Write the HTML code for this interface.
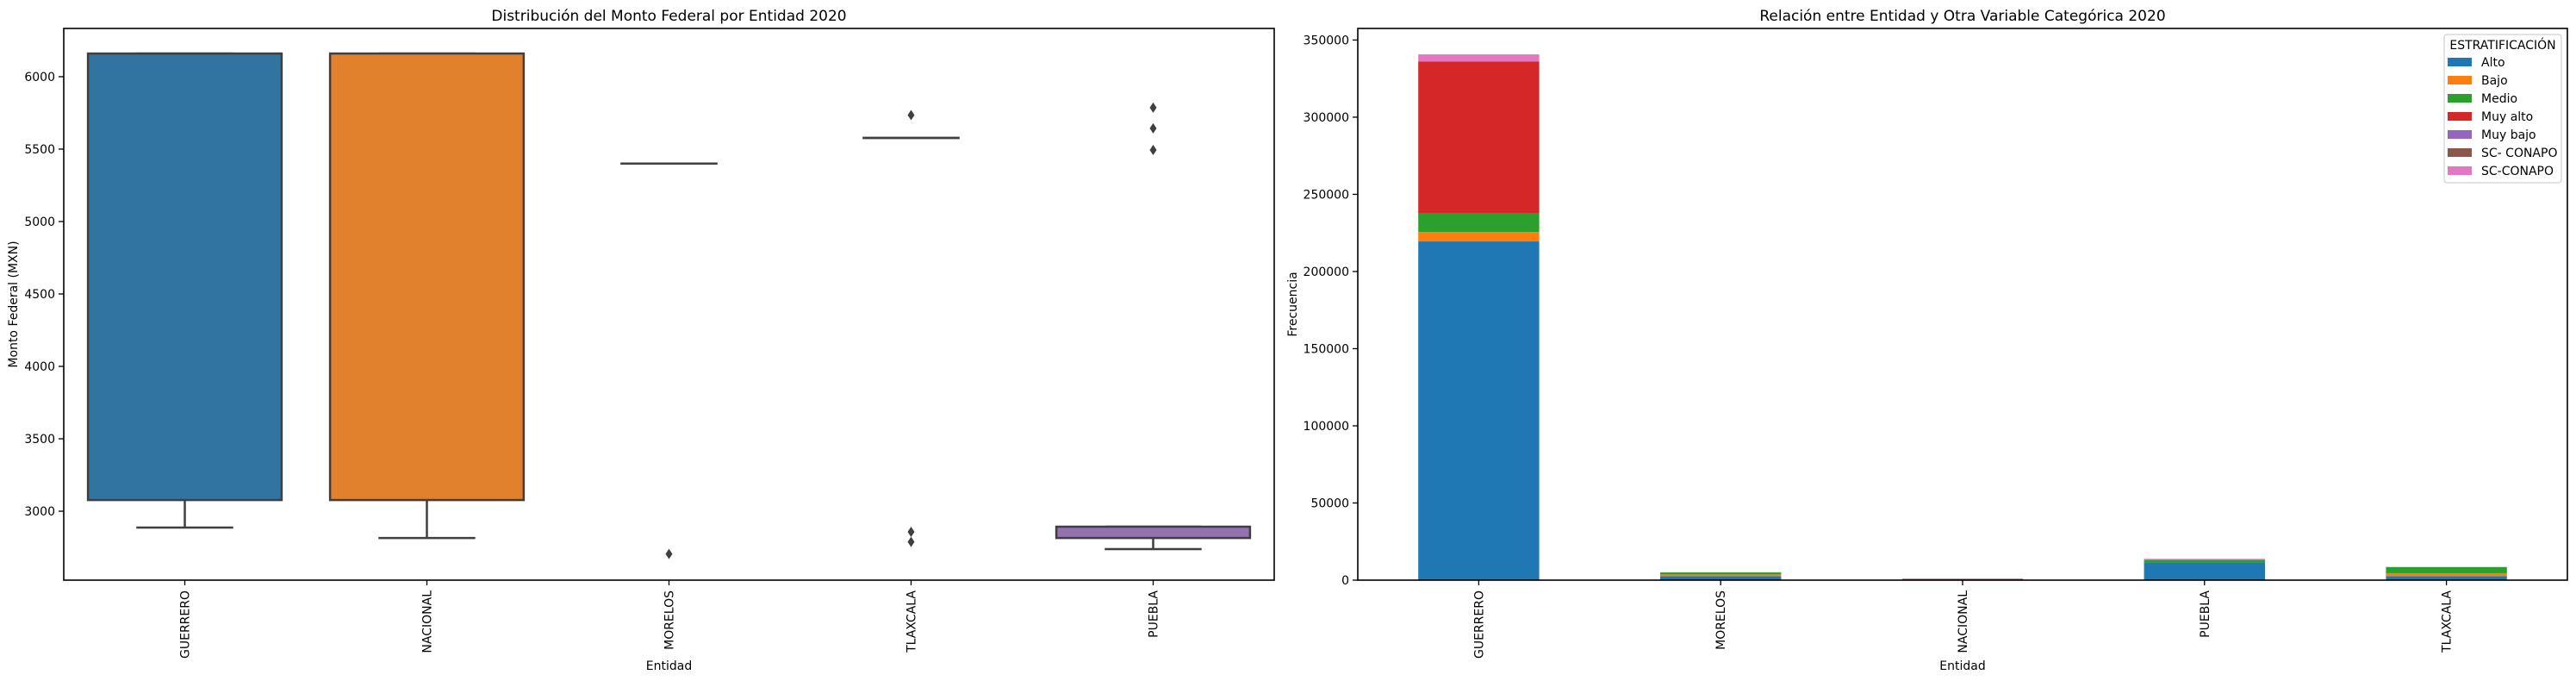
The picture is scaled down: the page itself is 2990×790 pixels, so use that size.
<!DOCTYPE html>
<html><head><meta charset="utf-8"><style>
html,body{margin:0;padding:0;background:#fff;}
svg{display:block;font-family:"DejaVu Sans","Liberation Sans",sans-serif;}
</style></head><body>
<svg id="chart" width="2990" height="790" xmlns="http://www.w3.org/2000/svg"></svg>
<script>
// ---- Left chart data (box plot) ----
const boxCats = ["GUERRERO","NACIONAL","MORELOS","TLAXCALA","PUEBLA"];
const boxColors = ["#3274a1","#e1812c","#3a923a","#c03d3e","#9372b2"];
const boxQ1 = [3077,3077,5400,5577,2815];
const boxQ3 = [6160,6160,5400,5577,2893];
const boxWhiskLow = [2887,2815,5400,5577,2738];
const boxWhiskHigh = [6160,6160,5400,5577,2893];
const boxOutliers = [[],[],[2705],[5735,2857,2788],[5786,5643,5494]];
const leftTicks = [3000,3500,4000,4500,5000,5500,6000];

// ---- Right chart data (stacked bars) ----
const barCats = ["GUERRERO","MORELOS","NACIONAL","PUEBLA","TLAXCALA"];
const seriesNames = ["Alto","Bajo","Medio","Muy alto","Muy bajo","SC- CONAPO","SC-CONAPO"];
const seriesColors = ["#1f77b4","#ff7f0e","#2ca02c","#d62728","#9467bd","#8c564b","#e377c2"];
const sAlto = [219500,2600,0,11400,2600];
const sBajo = [6100,1100,0,0,1900];
const sMedio = [11900,1300,0,1800,4000];
const sMuyAlto = [98500,0,0,0,0];
const sMuyBajo = [0,0,0,0,0];
const sSC1 = [0,0,900,0,0];
const sSC2 = [4700,0,0,600,0];
const rightTicks = [0,50000,100000,150000,200000,250000,300000,350000];

const NS="http://www.w3.org/2000/svg";
const svg=document.getElementById('chart');
function el(tag,attrs,parent){const e=document.createElementNS(NS,tag);for(const k in attrs)e.setAttribute(k,attrs[k]);(parent||svg).appendChild(e);return e;}
function txt(s,attrs,parent){const e=el('text',attrs,parent);e.textContent=s;return e;}

// ===== LEFT =====
const L={x0:74,x1:1479,y0:33,y1:673,vmin:2524,vmax:6333};
const ly=v=>L.y1-(v-L.vmin)/(L.vmax-L.vmin)*(L.y1-L.y0);
const lstep=(L.x1-L.x0)/boxCats.length;
const lx=i=>L.x0+lstep*(i+0.5);
const gL=el('g',{});


const lt=txt("Distribución del Monto Federal por Entidad 2020",{x:(L.x0+L.x1)/2,y:24,'text-anchor':'middle','font-size':17,fill:'#000'},gL);

boxCats.forEach((c,i)=>{
  const g=el('g',{},gL);
  
  
  const cx=lx(i),w=lstep*0.8;
  el('line',{x1:cx,x2:cx,y1:ly(boxQ1[i]),y2:ly(boxWhiskLow[i]),stroke:'#3f3f3f','stroke-width':2.5},g);
  el('line',{x1:cx,x2:cx,y1:ly(boxQ3[i]),y2:ly(boxWhiskHigh[i]),stroke:'#3f3f3f','stroke-width':2.5},g);
  el('line',{x1:cx-w/4,x2:cx+w/4,y1:ly(boxWhiskLow[i]),y2:ly(boxWhiskLow[i]),stroke:'#3f3f3f','stroke-width':2.5},g);
  el('line',{x1:cx-w/4,x2:cx+w/4,y1:ly(boxWhiskHigh[i]),y2:ly(boxWhiskHigh[i]),stroke:'#3f3f3f','stroke-width':2.5},g);
  const h=Math.max(0,ly(boxQ1[i])-ly(boxQ3[i]));
  el('rect',{x:cx-w/2,y:ly(boxQ3[i]),width:w,height:h,fill:boxColors[i],stroke:'#3f3f3f','stroke-width':2.5},g);
  boxOutliers[i].forEach(v=>{
    const y=ly(v);
    const o=el('path',{d:`M${cx} ${y-6} L${cx+4} ${y} L${cx} ${y+6} L${cx-4} ${y} Z`,fill:'#3f3f3f'},g);
    
    
  });
  el('line',{x1:cx,x2:cx,y1:L.y1,y2:L.y1+6,stroke:'#000','stroke-width':1.3},gL);
  const t=txt(c,{x:0,y:0,'text-anchor':'end','font-size':14,transform:`translate(${cx+5},${L.y1+12}) rotate(-90)`,fill:'#000'},gL);
  
});
leftTicks.forEach(v=>{
  const y=ly(v);
  el('line',{x1:L.x0-6,x2:L.x0,y1:y,y2:y,stroke:'#000','stroke-width':1.3},gL);
  const t=txt(String(v),{x:L.x0-10,y:y+5,'text-anchor':'end','font-size':14,fill:'#000'},gL);
  
});
el('rect',{x:L.x0,y:L.y0,width:L.x1-L.x0,height:L.y1-L.y0,fill:'none',stroke:'#000','stroke-width':1.6},gL);
const lxl=txt("Entidad",{x:(L.x0+L.x1)/2,y:777,'text-anchor':'middle','font-size':14,fill:'#000'},gL);

const lyl=txt("Monto Federal (MXN)",{x:0,y:0,'text-anchor':'middle','font-size':14,transform:`translate(20,${(L.y0+L.y1)/2}) rotate(-90)`,fill:'#000'},gL);


// ===== RIGHT =====
const R={x0:1576,x1:2980,y0:33,y1:673,vmin:0,vmax:357500};
const ry=v=>R.y1-(v-R.vmin)/(R.vmax-R.vmin)*(R.y1-R.y0);
const rstep=(R.x1-R.x0)/barCats.length;
const rx=i=>R.x0+rstep*(i+0.5);
const gR=el('g',{});


const rt=txt("Relación entre Entidad y Otra Variable Categórica 2020",{x:(R.x0+R.x1)/2,y:24,'text-anchor':'middle','font-size':17,fill:'#000'},gR);

const allSeries=[sAlto,sBajo,sMedio,sMuyAlto,sMuyBajo,sSC1,sSC2];
barCats.forEach((c,i)=>{
  let base=0;
  const cx=rx(i),w=rstep*0.5;
  allSeries.forEach((s,k)=>{
    const v=s[i];
    if(v>0){
      const r=el('rect',{x:cx-w/2,y:ry(base+v),width:w,height:ry(base)-ry(base+v),fill:seriesColors[k]},gR);
      
      
    }
    base+=v;
  });
  el('line',{x1:cx,x2:cx,y1:R.y1,y2:R.y1+6,stroke:'#000','stroke-width':1.3},gR);
  const t=txt(c,{x:0,y:0,'text-anchor':'end','font-size':14,transform:`translate(${cx+5},${R.y1+12}) rotate(-90)`,fill:'#000'},gR);
  
});
rightTicks.forEach(v=>{
  const y=ry(v);
  el('line',{x1:R.x0-6,x2:R.x0,y1:y,y2:y,stroke:'#000','stroke-width':1.3},gR);
  const t=txt(String(v),{x:R.x0-10,y:y+5,'text-anchor':'end','font-size':14,fill:'#000'},gR);
  
});
el('rect',{x:R.x0,y:R.y0,width:R.x1-R.x0,height:R.y1-R.y0,fill:'none',stroke:'#000','stroke-width':1.6},gR);
const rxl=txt("Entidad",{x:(R.x0+R.x1)/2,y:777,'text-anchor':'middle','font-size':14,fill:'#000'},gR);

const ryl=txt("Frecuencia",{x:0,y:0,'text-anchor':'middle','font-size':14,transform:`translate(1505,${(R.y0+R.y1)/2}) rotate(-90)`,fill:'#000'},gR);


// legend
const lg=el('g',{},gR);


el('rect',{x:2837,y:40,width:136,height:172,rx:3,fill:'#fff',stroke:'#d0d0d0','stroke-width':1.2},lg);
txt("ESTRATIFICACIÓN",{x:2905,y:57,'text-anchor':'middle','font-size':14,fill:'#000'},lg);
seriesNames.forEach((n,k)=>{
  const y=72+k*21;
  const e=el('g',{},lg);
  
  
  el('rect',{x:2841,y:y-5,width:28,height:10,fill:seriesColors[k]},e);
  txt(n,{x:2880,y:y+5,'font-size':14,fill:'#000'},e);
});
</script>
</body></html>
